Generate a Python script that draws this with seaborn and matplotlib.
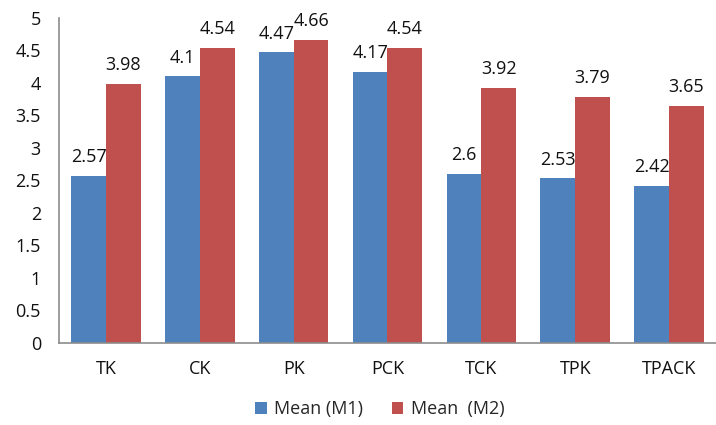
import matplotlib
matplotlib.use("Agg")
import matplotlib.pyplot as plt
import seaborn as sns
import pandas as pd
from matplotlib.patches import Patch

categories = ["TK", "CK", "PK", "PCK", "TCK", "TPK", "TPACK"]
mean_m1 = [2.57, 4.1, 4.47, 4.17, 2.6, 2.53, 2.42]
mean_m2 = [3.98, 4.54, 4.66, 4.54, 3.92, 3.79, 3.65]
series_names = ["Mean (M1)", "Mean  (M2)"]
y_ticks = [0, 0.5, 1, 1.5, 2, 2.5, 3, 3.5, 4, 4.5, 5]

colors = ["#4F81BD", "#C0504D"]

df = pd.DataFrame({
    "category": categories * 2,
    "value": mean_m1 + mean_m2,
    "series": [series_names[0]] * len(categories) + [series_names[1]] * len(categories),
})

sns.set_theme(style="white")
plt.rcParams["font.family"] = ["Open Sans", "DejaVu Sans"]

fs = 13

fig = plt.figure(figsize=(7.16, 4.25), dpi=100)
ax = fig.add_axes([0.0824, 0.193, 0.9176, 0.765])

sns.barplot(data=df, x="category", y="value", hue="series", order=categories,
            hue_order=series_names, palette=colors, width=0.74, gap=0,
            saturation=1, ax=ax, legend=False, linewidth=0)

for cont in ax.containers:
    ax.bar_label(cont, fmt="%g", padding=7, fontsize=fs, color="#111111")

ax.set_ylim(0, 5)
ax.set_xlim(-0.5, len(categories) - 0.5)
ax.set_yticks(y_ticks)
ax.set_yticklabels([f"{t:g}" for t in y_ticks])
ax.tick_params(axis="y", length=0, pad=13, labelsize=fs, labelcolor="#111111")
ax.tick_params(axis="x", length=0, pad=12, labelsize=fs, labelcolor="#111111")
ax.set_xlabel("")
ax.set_ylabel("")

for side in ["top", "right"]:
    ax.spines[side].set_visible(False)
for side in ["left", "bottom"]:
    ax.spines[side].set_color("#8c8c8c")
    ax.spines[side].set_linewidth(1.2)

handles = [Patch(facecolor=c, edgecolor="none") for c in colors]
fig.legend(handles, series_names, loc="center", bbox_to_anchor=(0.53, 0.037),
           ncol=2, frameon=False, fontsize=fs, handlelength=0.65, handleheight=0.65,
           handletextpad=0.4, columnspacing=1.6)

fig.savefig("out.png", dpi=100)
